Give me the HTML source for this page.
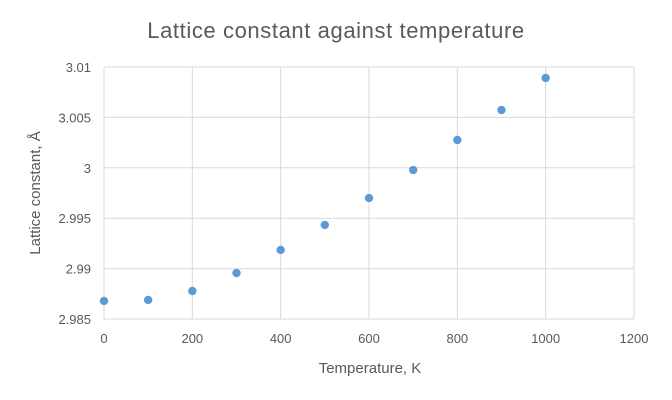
<!DOCTYPE html>
<html><head><meta charset="utf-8"><style>
body{margin:0;background:#fff;}
svg{display:block;font-family:"Liberation Sans",Arial,sans-serif;}
</style></head><body>
<svg id="chart" width="672" height="400" viewBox="0 0 672 400">
<rect x="0" y="0" width="672" height="400" fill="#fff"/>
<text x="336" y="38" text-anchor="middle" font-size="22" letter-spacing="0.6" fill="#595959">Lattice constant against temperature</text>
<g id="grid"></g>
<g id="xticks"></g>
<g id="yticks"></g>
<g id="points"></g>
<text x="370" y="373" text-anchor="middle" font-size="15" fill="#595959">Temperature, K</text>
<text transform="translate(40,193) rotate(-90)" text-anchor="middle" font-size="15" fill="#595959">Lattice constant, Å</text>
</svg>
<script>
const temperatures = [0,100,200,300,400,500,600,700,800,900,1000];
const latticeValues = [2.98679,2.98689,2.98778,2.98956,2.99185,2.99433,2.99700,2.99978,3.00276,3.00573,3.00891];
const xTickValues = [0,200,400,600,800,1000,1200];
const yTickValues = [2.985,2.99,2.995,3,3.005,3.01];
const yTickLabels = ["2.985","2.99","2.995","3","3.005","3.01"];

const NS = "http://www.w3.org/2000/svg";
const X0=104, X1=634, Y0=319, Y1=67;
const xMin=0,xMax=1200,yMin=2.985,yMax=3.01;
function sx(v){return X0+(v-xMin)/(xMax-xMin)*(X1-X0);}
function sy(v){return Y0-(v-yMin)/(yMax-yMin)*(Y0-Y1);}
function mk(tag,attrs){const e=document.createElementNS(NS,tag);for(const k in attrs)e.setAttribute(k,attrs[k]);return e;}
const grid=document.getElementById('grid'),xt=document.getElementById('xticks'),yt=document.getElementById('yticks'),pts=document.getElementById('points');
xTickValues.forEach(v=>{
  const l=mk('line',{x1:sx(v),x2:sx(v),y1:Y1,y2:Y0,stroke:'#d9d9d9','stroke-width':1});
  
  
  grid.appendChild(l);
  const t=mk('text',{x:sx(v),y:Y0+24,'text-anchor':'middle','font-size':13,fill:'#595959'});
  t.textContent=v;
  
  
  xt.appendChild(t);
});
yTickValues.forEach((v,i)=>{
  const l=mk('line',{x1:X0,x2:X1,y1:sy(v),y2:sy(v),stroke:'#d9d9d9','stroke-width':1});
  
  
  grid.appendChild(l);
  const t=mk('text',{x:X0-13,y:sy(v)+5,'text-anchor':'end','font-size':13,fill:'#595959'});
  t.textContent=yTickLabels[i];
  
  
  yt.appendChild(t);
});
temperatures.forEach((v,i)=>{
  const c=mk('circle',{cx:sx(v),cy:sy(latticeValues[i]),r:4.2,fill:'#5b9bd5'});
  
  
  pts.appendChild(c);
});
</script>
</body></html>
